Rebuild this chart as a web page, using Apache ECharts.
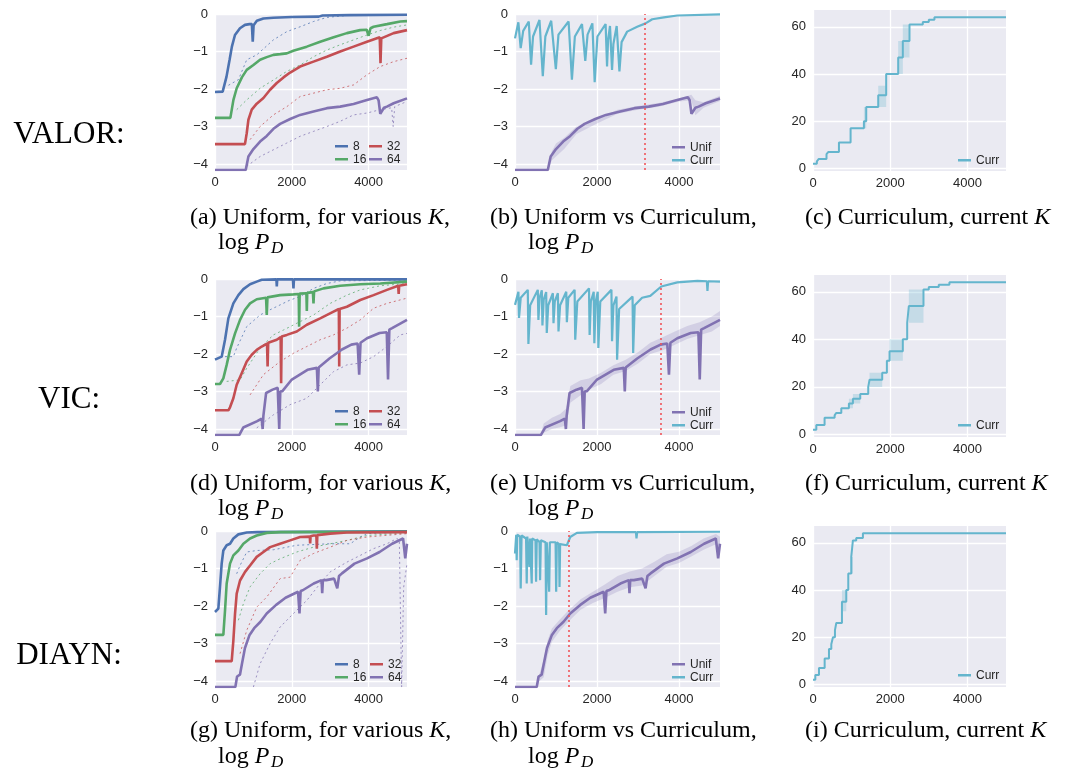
<!DOCTYPE html>
<html><head><meta charset="utf-8">
<script src="https://cdn.jsdelivr.net/npm/echarts@6/dist/echarts.min.js"></script>
<style>html,body{margin:0;padding:0;background:#fff}#c{width:1065px;height:770px}</style>
</head><body><div id="c"></div><script>
// ---------- DATA ----------
// Row 1: VALOR, uniform, main curves
const a8x  = [0,200,300,380,440,520,650,780,900,960,983,1005,1090,1260,1520,2000,2700,2800,3500,5000];
const a8y  = [-2.08,-2.07,-1.67,-1.22,-0.87,-0.56,-0.38,-0.29,-0.27,-0.27,-0.74,-0.3,-0.18,-0.12,-0.1,-0.08,-0.07,-0.04,-0.03,-0.02];
const a16x = [0,400,480,565,700,826,1000,1174,1348,1520,1700,1870,2040,2390,2740,3090,3435,3780,3950,4000,4050,4130,4480,4826,5000];
const a16y = [-2.77,-2.77,-2.29,-1.98,-1.69,-1.49,-1.36,-1.22,-1.15,-1.09,-1.07,-1.05,-0.98,-0.87,-0.74,-0.62,-0.51,-0.43,-0.42,-0.58,-0.38,-0.34,-0.27,-0.2,-0.19];
const a32x = [0,780,826,870,957,1087,1261,1435,1609,1783,1957,2217,2565,2913,3261,3609,3957,4290,4310,4330,4652,5000];
const a32y = [-3.47,-3.47,-3.18,-2.82,-2.55,-2.39,-2.24,-2.02,-1.84,-1.69,-1.56,-1.4,-1.27,-1.14,-1.0,-0.87,-0.74,-0.62,-1.31,-0.65,-0.51,-0.43];
const a64x = [0,800,870,1000,1174,1348,1522,1696,1957,2217,2565,2913,3261,3609,3957,4217,4260,4304,4400,4478,4652,5000];
const a64y = [-4.16,-4.16,-3.8,-3.6,-3.4,-3.25,-3.06,-2.93,-2.8,-2.69,-2.6,-2.51,-2.47,-2.4,-2.29,-2.22,-2.3,-2.66,-2.5,-2.47,-2.38,-2.25];
// Row 1 thin traces
const a8tx  = [350,610,826,1087,1520,1870,2217,2565,2913,3435,5000];
const a8ty  = [-1.9,-1.75,-1.22,-1.09,-0.69,-0.47,-0.34,-0.2,-0.09,-0.04,-0.02];
const a16tx = [565,826,1174,1520,1870,2217,2565,2913,3261,3609,3957,4304,4652,5000];
const a16ty = [-2.55,-2.29,-1.98,-1.76,-1.53,-1.36,-1.14,-0.96,-0.82,-0.69,-0.56,-0.44,-0.35,-0.29];
const a32tx = [913,1174,1520,1870,2217,2565,2913,3261,3609,3957,4304,4652,5000];
const a32ty = [-3.35,-3.0,-2.69,-2.47,-2.2,-2.11,-2.02,-1.98,-1.89,-1.62,-1.4,-1.27,-1.18];
const a64tx = [826,1174,1520,1870,2217,2565,2913,3261,3609,3957,4304,4600,4640,4680,5000];
const a64ty = [-4.06,-3.8,-3.62,-3.44,-3.26,-3.13,-3.0,-2.86,-2.69,-2.64,-2.55,-2.5,-3.0,-2.47,-2.33];
// Row 1 curriculum log P_D
const bCurrX = [0,82,100,139,200,336,351,392,440,597,612,678,740,883,898,996,1060,1307,1322,1388,1460,1634,1649,1714,1770,1887,1902,1943,2010,2210,2220,2245,2270,2317,2327,2367,2400,2480,2490,2547,2600,2735,2980,3184,3347,3633,3959,5000];
const bCurrY = [-0.65,-0.22,-0.25,-0.91,-0.45,-0.2,-0.2,-1.35,-0.6,-0.16,-0.16,-1.66,-0.6,-0.18,-0.18,-1.47,-0.55,-0.2,-0.2,-1.75,-0.6,-0.27,-0.27,-1.25,-0.55,-0.25,-0.25,-1.82,-0.6,-0.27,-0.27,-1.4,-0.7,-0.32,-0.32,-1.49,-0.8,-0.32,-0.32,-1.53,-0.75,-0.47,-0.34,-0.25,-0.14,-0.09,-0.04,-0.01];
const bBandX  = [0,800,900,1000,1200,1500,2000,2500,3000,3500,4000,4300,4400,4600,5000];
const bBandLo = [-4.16,-4.16,-3.9,-3.8,-3.6,-3.2,-2.92,-2.66,-2.55,-2.47,-2.33,-2.3,-2.7,-2.5,-2.32];
const bBandHi = [-4.16,-4.16,-3.65,-3.45,-3.3,-3.0,-2.8,-2.55,-2.45,-2.37,-2.25,-2.15,-2.3,-2.35,-2.18];
// Row 1 current K
const cKx  = [0,100,150,350,400,672,974,1319,1379,1690,1896,2207,2327,2500,2845,3000,3146,5000];
const cK   = [2,3,4,6,7,11,17,20,26,31,40,47,54,61,62,63,64,64];
const cKlo = [2,3,4,6,7,11,17,17,26,26,40,40,47,61,62,63,64,64];
const cKhi = [2,3,4,6,7,11,17,26,26,35,40,54,61,61,62,63,64,64];

// Row 2: VIC
const d8x  = [0,174,261,348,478,609,739,913,1087,1217,1600,1609,1620,2030,2043,2056,2500,5000];
const d8y  = [-2.15,-2.07,-1.62,-1.05,-0.65,-0.43,-0.27,-0.14,-0.07,-0.02,-0.01,-0.2,-0.01,-0.01,-0.25,-0.01,-0.01,-0.01];
const d16x = [0,130,217,304,391,522,652,783,913,1087,1330,1348,1366,1696,2043,2180,2191,2205,2380,2391,2402,2550,2565,2580,2826,3261,3783,4304,5000];
const d16y = [-2.8,-2.8,-2.65,-2.29,-1.89,-1.45,-1.09,-0.82,-0.65,-0.54,-0.5,-0.96,-0.49,-0.43,-0.41,-0.4,-1.27,-0.39,-0.38,-0.85,-0.37,-0.35,-0.65,-0.33,-0.25,-0.18,-0.14,-0.12,-0.07];
const d32x = [0,348,391,478,565,696,826,957,1087,1217,1355,1370,1385,1435,1609,1710,1722,1735,1870,2130,2391,2739,3087,3225,3235,3245,3435,3783,4130,4478,4770,4783,4796,5000];
const d32y = [-3.5,-3.5,-3.42,-3.18,-2.82,-2.51,-2.2,-2.02,-1.89,-1.8,-1.72,-2.33,-1.7,-1.67,-1.62,-1.55,-2.78,-1.53,-1.49,-1.4,-1.22,-1.05,-0.87,-0.8,-2.33,-0.8,-0.74,-0.56,-0.43,-0.29,-0.18,-0.4,-0.18,-0.14];
const d64x = [0,630,735,1100,1215,1241,1260,1331,1500,1633,1673,1700,1755,2000,2408,2653,2678,2700,2980,3306,3551,3714,3755,3790,3959,4286,4473,4506,4540,4612,5000];
const d64y = [-4.16,-4.16,-3.96,-3.79,-3.72,-4.0,-3.65,-3.04,-2.95,-2.9,-4.0,-3.0,-2.99,-2.68,-2.42,-2.37,-3.0,-2.36,-2.12,-1.88,-1.75,-1.72,-2.55,-1.7,-1.58,-1.44,-1.42,-2.68,-1.35,-1.31,-1.09];
const d8tx  = [261,478,565,826,1174,1435,1696,1957,2217,2565,2913,3261,5000];
const d8ty  = [-2.07,-2.07,-1.84,-1.27,-0.96,-0.82,-0.69,-0.56,-0.47,-0.25,-0.12,-0.05,-0.03];
const d16tx = [304,652,826,1174,1522,1783,2130,2565,3000,3435,3783,4304,5000];
const d16ty = [-2.73,-2.69,-2.38,-1.84,-1.49,-1.36,-1.18,-0.96,-0.65,-0.43,-0.29,-0.18,-0.12];
const d32tx = [913,1261,1696,2043,2391,2739,3087,3435,3783,4130,4478,5000];
const d32ty = [-3.09,-2.55,-2.2,-1.98,-1.8,-1.62,-1.49,-1.31,-1.09,-0.78,-0.65,-0.51];
const d64tx = [1087,1522,1957,2391,2739,3087,3435,3783,4130,4478,4826,5000];
const d64ty = [-3.97,-3.62,-3.35,-3.18,-2.82,-2.47,-2.29,-2.24,-2.07,-1.8,-1.49,-1.45];
const eCurrX = [0,83,98,140,312,327,370,556,571,600,654,669,700,760,775,810,924,939,970,1046,1061,1100,1250,1265,1300,1454,1469,1520,1805,1820,1850,1920,1935,1970,2018,2033,2080,2352,2367,2400,2475,2490,2540,2867,2882,2920,3100,3300,3567,3959,4449,4680,4694,4710,5000];
const eCurrY = [-0.69,-0.34,-1.04,-0.5,-0.29,-1.73,-0.7,-0.29,-1.09,-0.5,-0.3,-1.24,-0.55,-0.35,-1.44,-0.7,-0.38,-1.18,-0.6,-0.38,-1.4,-0.7,-0.34,-1.15,-0.5,-0.29,-1.62,-0.6,-0.25,-1.49,-0.6,-0.34,-1.71,-0.6,-0.34,-1.84,-0.6,-0.29,-1.66,-0.7,-0.47,-2.15,-0.8,-0.47,-1.97,-0.7,-0.5,-0.45,-0.2,-0.09,-0.05,-0.06,-0.32,-0.06,-0.07];
const eBandX  = [0,620,700,900,1100,1250,1350,1600,1800,2100,2400,2700,3000,3300,3600,3900,4200,4500,4800,5000];
const eBandLo = [-4.16,-4.16,-4.1,-4.0,-3.95,-3.9,-3.3,-3.1,-2.95,-2.8,-2.55,-2.45,-2.25,-2.0,-1.9,-1.75,-1.6,-1.5,-1.4,-1.25];
const eBandHi = [-4.16,-4.16,-3.85,-3.7,-3.6,-3.45,-2.85,-2.7,-2.65,-2.5,-2.3,-2.15,-1.95,-1.7,-1.55,-1.4,-1.25,-1.15,-1.0,-0.85];
const fKx  = [0,86,300,560,600,733,930,1034,1224,1431,1465,1793,1914,1983,2327,2440,2483,2862,3000,3258,3534,5000];
const fK   = [2,4,7,8,9,11,13,15,17,20,23,26,31,35,40,47,54,61,62,63,64,64];
const fKlo = [2,4,7,8,9,11,11,13,17,20,20,26,31,31,40,47,47,61,62,63,64,64];
const fKhi = [2,4,7,8,9,11,15,17,17,20,26,26,31,40,40,47,61,61,62,63,64,64];

// Row 3: DIAYN
const g8x  = [0,87,130,174,217,304,391,478,609,826,1100,5000];
const g8y  = [-2.16,-2.07,-1.49,-0.87,-0.52,-0.38,-0.34,-0.2,-0.09,-0.04,-0.03,-0.01];
const g16x = [0,217,261,304,391,478,609,739,913,1087,1348,1700,5000];
const g16y = [-2.77,-2.77,-2.12,-1.4,-0.87,-0.65,-0.52,-0.34,-0.2,-0.12,-0.05,-0.03,-0.02];
const g32x = [0,435,478,522,565,652,783,913,1087,1261,1435,1696,1957,2217,2470,2478,2490,2565,2640,2652,2665,3000,3435,5000];
const g32y = [-3.47,-3.47,-2.92,-2.2,-1.67,-1.32,-1.09,-0.92,-0.69,-0.56,-0.43,-0.34,-0.25,-0.16,-0.15,-0.33,-0.14,-0.12,-0.12,-0.47,-0.11,-0.07,-0.04,-0.03];
const g64x = [0,530,575,650,700,780,900,1020,1184,1347,1592,1837,2163,2200,2230,2286,2571,2776,2792,2810,2898,3102,3184,3230,3306,3633,3959,4286,4612,4898,4955,5000];
const g64y = [-4.16,-4.16,-3.88,-3.83,-3.55,-3.12,-2.77,-2.59,-2.42,-2.2,-1.97,-1.78,-1.62,-2.2,-1.6,-1.58,-1.4,-1.31,-1.66,-1.31,-1.31,-1.27,-1.53,-1.2,-1.13,-0.87,-0.73,-0.56,-0.34,-0.2,-0.73,-0.34];
const g8tx  = [565,652,826,1087,1522,2130,3000,3522,3783,3957,5000];
const g8ty  = [-1.14,-0.92,-0.56,-0.52,-0.5,-0.38,-0.34,-0.34,-0.16,-0.07,-0.03];
const g16tx = [609,739,913,1174,1435,1696,2130,2565,3000,3435,3957,5000];
const g16ty = [-2.38,-1.94,-1.49,-1.14,-0.87,-0.74,-0.56,-0.43,-0.34,-0.25,-0.12,-0.05];
const g32tx = [652,826,1087,1348,1696,1957,2217,2565,3000,3435,3957,5000];
const g32ty = [-3.27,-2.65,-2.03,-1.76,-1.27,-1.23,-0.78,-0.6,-0.43,-0.25,-0.16,-0.07];
const g64tx = [1000,1174,1435,1696,2043,2391,2739,3000,3435,3783,4130,4478,4739,4800,4860,4913,5000];
const g64ty = [-4.16,-3.54,-3.0,-2.56,-2.2,-1.85,-1.4,-1.09,-0.83,-0.65,-0.47,-0.34,-0.2,-0.25,-4.16,-1.5,-0.87];
const hCurrX = [0,30,41,55,125,139,160,270,286,300,340,351,365,395,408,420,500,514,530,598,612,630,745,759,775,820,833,850,990,1004,1020,1075,1086,1100,1265,1347,1510,2000,2950,2963,2980,5000];
const hCurrY = [-0.6,-0.1,-0.78,-0.1,-0.15,-1.53,-0.12,-0.2,-1.4,-0.15,-0.2,-0.96,-0.2,-0.25,-1.4,-0.2,-0.25,-1.35,-0.22,-0.3,-1.31,-0.25,-0.3,-2.24,-0.3,-0.3,-1.62,-0.3,-0.3,-1.62,-0.3,-0.35,-1.49,-0.35,-0.38,-0.16,-0.05,-0.03,-0.03,-0.2,-0.03,-0.02];
const hBandX  = [0,530,600,700,800,900,1100,1300,1600,1900,2200,2500,2800,3100,3400,3700,4000,4300,4600,4900,5000];
const hBandLo = [-4.16,-4.16,-4.0,-3.9,-3.3,-2.95,-2.65,-2.42,-2.1,-1.92,-1.78,-1.62,-1.5,-1.45,-1.2,-0.95,-0.85,-0.68,-0.5,-0.35,-0.6];
const hBandHi = [-4.16,-4.16,-3.8,-3.45,-2.9,-2.6,-2.35,-2.12,-1.82,-1.62,-1.42,-1.2,-1.08,-1.0,-0.82,-0.62,-0.55,-0.4,-0.2,-0.08,-0.15];
const iKx  = [0,60,155,302,414,474,517,569,603,750,862,914,991,1034,1120,1293,5000];
const iK   = [2,4,7,11,15,17,20,23,26,35,40,47,54,61,62,64,64];
const iKlo = [2,4,7,11,15,17,20,23,26,31,40,47,47,61,62,64,64];
const iKhi = [2,4,7,11,15,17,20,23,26,40,40,47,54,61,62,64,64];

// switch point of the curriculum (red dotted line), per row
const switchStep = [3170, 3550, 1310];
const rowNames = ['VALOR:', 'VIC:', 'DIAYN:'];
const captionLetters = [['a','b','c'],['d','e','f'],['g','h','i']];
const kNames = ['8','16','32','64'];

// ---------- LAYOUT ----------
const colLeft = [215, 515, 813], colWidth = [192, 205, 193];
const logTop = [14, 279, 531], logHeight = [156, 156, 156];
const kTop = [10, 275, 526], kHeight = [161, 162, 161];
const C = { '8':'#4C72B0', '16':'#55A868', '32':'#C44E52', '64':'#8172B2', curr:'#64B5CD' };
const pair = (xs, ys) => xs.map((x, i) => [x, ys[i]]);

const grids = [], xAxes = [], yAxes = [], series = [], legends = [], graphics = [];
const lbl = { color:'#262626', fontSize:13, fontFamily:'Liberation Sans' };
const numFmt = v => (Number.isInteger(v) ? (v < 0 ? '\u2212' + (-v) : String(v)) : '');

for (let r = 0; r < 3; r++) {
  for (let c = 0; c < 3; c++) {
    const idx = r * 3 + c;
    const isK = c === 2;
    grids.push({ left: colLeft[c], width: colWidth[c], top: isK ? kTop[r] : logTop[r], height: isK ? kHeight[r] : logHeight[r],
      show: true, backgroundColor: '#EAEAF2', borderWidth: 0, containLabel: false, outerBoundsMode: 'none' });
    xAxes.push({ type:'value', gridIndex: idx, min: 0, max: 5000, interval: 2000,
      axisLine:{show:false}, axisTick:{show:false},
      splitLine:{show:true, showMaxLine:false, lineStyle:{color:'#ffffff', width:1.3}},
      axisLabel:Object.assign({ margin:6, formatter: v => (v % 2000 === 0 ? String(v) : '') }, lbl) });
    if (isK) {
      yAxes.push({ type:'value', gridIndex: idx, min: -1.1, max: 67.1, splitNumber: 3,
        axisLine:{show:false}, axisTick:{show:false},
        splitLine:{show:true, showMinLine:false, showMaxLine:false, lineStyle:{color:'#ffffff', width:1.3}},
        axisLabel:Object.assign({ margin:7, formatter: v => (Number.isInteger(v) && v % 20 === 0 ? String(Math.abs(v)) : '') }, lbl) });
    } else {
      yAxes.push({ type:'value', gridIndex: idx, min: -4.159, max: 0, splitNumber: 5,
        axisLine:{show:false}, axisTick:{show:false},
        splitLine:{show:true, showMinLine:false, lineStyle:{color:'#ffffff', width:1.3}},
        axisLabel:Object.assign({ margin:7, formatter: numFmt }, lbl) });
    }
  }
}

const line = (idx, name, xs, ys, color, width, extra) => Object.assign({
  type:'line', name, xAxisIndex: idx, yAxisIndex: idx, data: pair(xs, ys),
  symbol:'none', showSymbol:false, animation:false, silent:true,
  lineStyle:{ color, width }, itemStyle:{ color }
}, extra || {});
// shaded band between lo and hi, drawn through the axes' coordinate mapping
const band = (idx, xs, lo, hi, color, step) => ({
  type:'custom', xAxisIndex: idx, yAxisIndex: idx, silent:true, animation:false, clip:true,
  data: xs.map((x, i) => [x, lo[i], hi[i]]),
  encode:{ x: 0, y: [1, 2] },
  renderItem: (params, api) => {
    if (params.dataIndex !== 0) return null;
    const up = [], dn = [];
    for (let i = 0; i < xs.length; i++) {
      if (step && i > 0) { up.push(api.coord([xs[i], hi[i - 1]])); dn.push(api.coord([xs[i], lo[i - 1]])); }
      up.push(api.coord([xs[i], hi[i]])); dn.push(api.coord([xs[i], lo[i]]));
    }
    return { type:'polygon', shape:{ points: up.concat(dn.reverse()) }, style:{ fill: color } };
  }
});

const uni = [
  { main:[[a8x,a8y],[a16x,a16y],[a32x,a32y],[a64x,a64y]], thin:[[a8tx,a8ty],[a16tx,a16ty],[a32tx,a32ty],[a64tx,a64ty]] },
  { main:[[d8x,d8y],[d16x,d16y],[d32x,d32y],[d64x,d64y]], thin:[[d8tx,d8ty],[d16tx,d16ty],[d32tx,d32ty],[d64tx,d64ty]] },
  { main:[[g8x,g8y],[g16x,g16y],[g32x,g32y],[g64x,g64y]], thin:[[g8tx,g8ty],[g16tx,g16ty],[g32tx,g32ty],[g64tx,g64ty]] }
];
const curr = [[bCurrX,bCurrY],[eCurrX,eCurrY],[hCurrX,hCurrY]];
const ubands = [[bBandX,bBandLo,bBandHi],[eBandX,eBandLo,eBandHi],[hBandX,hBandLo,hBandHi]];
const ks = [[cKx,cK,cKlo,cKhi],[fKx,fK,fKlo,fKhi],[iKx,iK,iKlo,iKhi]];

for (let r = 0; r < 3; r++) {
  const ia = r * 3, ib = r * 3 + 1, ic = r * 3 + 2;
  // (a) uniform for various K
  uni[r].thin.forEach((t, j) => series.push(line(ia, kNames[j] + ' seed', t[0], t[1], C[kNames[j]], 1,
    { lineStyle:{ color: C[kNames[j]], width: 0.9, type:[2, 3], opacity: 0.85 } })));
  uni[r].main.forEach((m, j) => series.push(line(ia, kNames[j], m[0], m[1], C[kNames[j]], 2.6)));
  // (b) uniform vs curriculum
  series.push(band(ib, ubands[r][0], ubands[r][1], ubands[r][2], 'rgba(129,114,178,0.22)', false));
  series.push(line(ib, 'Unif', uni[r].main[3][0], uni[r].main[3][1], C['64'], 2.6));
  series.push(line(ib, 'Curr', curr[r][0], curr[r][1], C.curr, 2.2, {
    markLine:{ silent:true, symbol:'none', animation:false, label:{show:false},
      lineStyle:{ color:'#F0555A', type:[2, 3], width:1.6 }, data:[{ xAxis: switchStep[r] }] } }));
  // (c) current K
  series.push(band(ic, ks[r][0], ks[r][2], ks[r][3], 'rgba(100,181,205,0.28)', true));
  series.push(line(ic, 'Curr', ks[r][0], ks[r][1], C.curr, 2, { step:'end' }));
}

// legends
const legBase = { orient:'vertical', icon:'rect', itemWidth:13, itemHeight:2.5, itemGap:0.5, padding:0,
  selectedMode:false, textStyle:{ fontSize:12, color:'#262626', fontFamily:'Liberation Sans', lineHeight:12.5 } };
const legA = [[335, 369, 140], [335, 369, 405], [335, 370, 658]];
const legB = [[672, 141], [672, 406], [672, 658]];
const legC = [[958, 154], [958, 419], [958, 669]];
for (let r = 0; r < 3; r++) {
  legends.push(Object.assign({}, legBase, { left: legA[r][0], top: legA[r][2], data:['8','16'] }));
  legends.push(Object.assign({}, legBase, { left: legA[r][1], top: legA[r][2], data:['32','64'] }));
  legends.push(Object.assign({}, legBase, { left: legB[r][0], top: legB[r][1], data:['Unif','Curr'] }));
  legends.push(Object.assign({}, legBase, { left: legC[r][0], top: legC[r][1], data:['Curr'] }));
}

// text: row labels and captions
const serif = 'Liberation Serif';
const rowLabelY = [135, 400, 656];
const capY1 = [218, 484, 731], capY2 = [243, 509, 757];
const capX1 = [190, 490, 805], capX2 = [218, 528];
const rich = { it:{ fontStyle:'italic', fontSize:24, fontFamily:serif, fill:'#000' } };
const txt = (x, y, text, size, extra) => ({ type:'text', x, y, silent:true,
  style: Object.assign({ text, fontSize:size, fontFamily:serif, fill:'#000', align:'left', verticalAlign:'middle', rich }, extra || {}) });
for (let r = 0; r < 3; r++) {
  graphics.push(txt(69, rowLabelY[r], rowNames[r], 31, { align:'center' }));
  const L = captionLetters[r];
  graphics.push(txt(capX1[0], capY1[r], '(' + L[0] + ') Uniform, for various {it|K},', 24));
  graphics.push(txt(capX1[1], capY1[r], '(' + L[1] + ') Uniform vs Curriculum,', 24));
  graphics.push(txt(capX1[2], capY1[r], '(' + L[2] + ') Curriculum, current {it|K}', 24));
  for (let c = 0; c < 2; c++) {
    graphics.push(txt(capX2[c], capY2[r], 'log {it|P}', 24));
    graphics.push(txt(capX2[c] + 53, capY2[r] + 6, 'D', 17, { fontStyle:'italic' }));
  }
}

const chart = echarts.init(document.getElementById('c'), null, { renderer:'canvas' });
chart.setOption({
  animation:false, backgroundColor:'#ffffff',
  grid: grids, xAxis: xAxes, yAxis: yAxes, series, legend: legends, graphic: graphics
});
</script></body></html>
